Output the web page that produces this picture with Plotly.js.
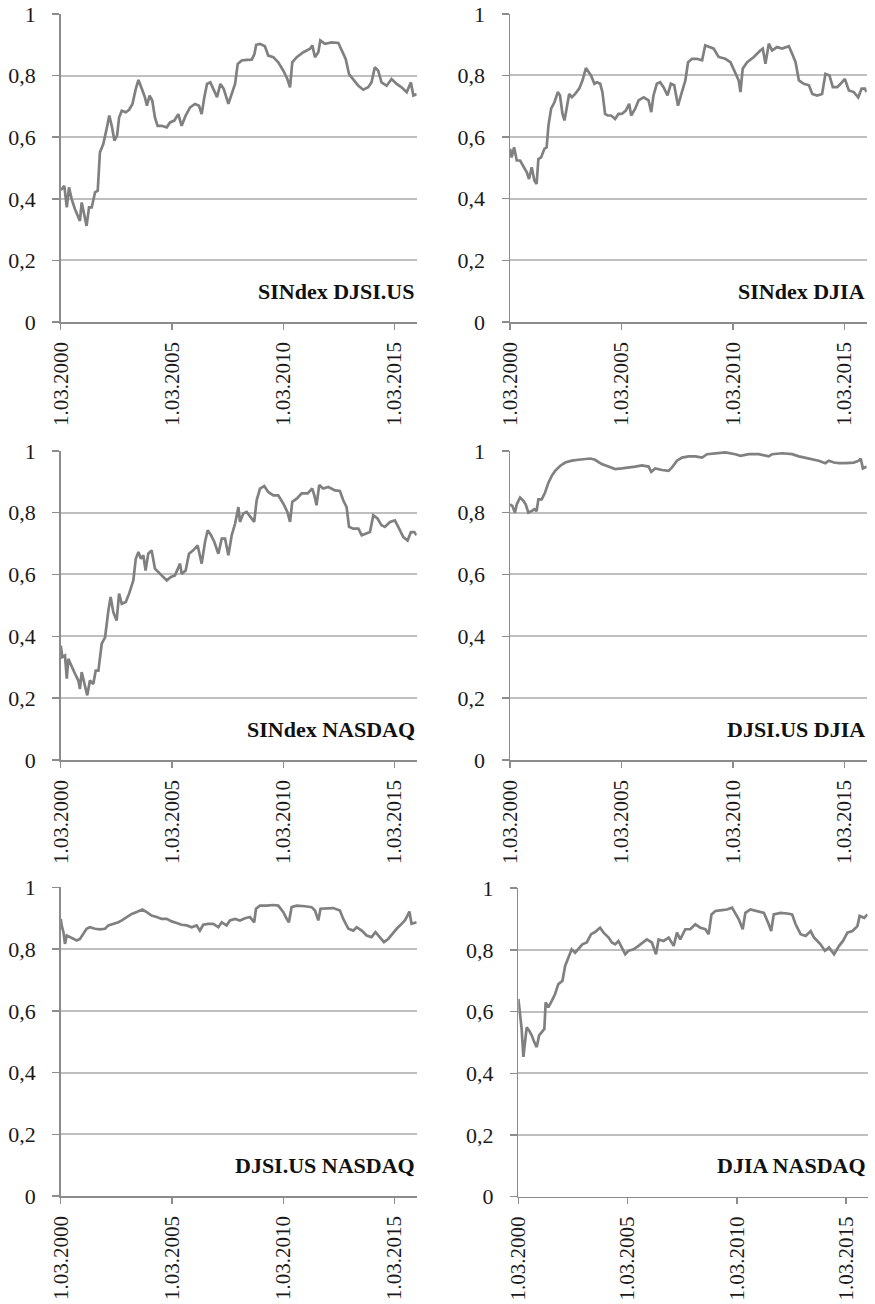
<!DOCTYPE html>
<html>
<head>
<meta charset="utf-8">
<script src="https://cdn.plot.ly/plotly-3.0.1.min.js"></script>
<style>html,body{margin:0;padding:0;background:#fff}#chart{width:875px;height:1304px}</style>
</head>
<body>
<div id="chart"></div>
<script>
// Panel titles
const panelTitles = ["SINdex DJSI.US", "SINdex DJIA", "SINdex NASDAQ", "DJSI.US DJIA", "DJSI.US NASDAQ", "DJIA NASDAQ"];
// X tick labels (1 March of each year)
const tickYears = [2000, 2005, 2010, 2015];
const tickLabels = ["1.03.2000", "1.03.2005", "1.03.2010", "1.03.2015"];
const yTicks = [0, 0.2, 0.4, 0.6, 0.8, 1];

// Series 1: SINdex - DJSI.US (time in decimal years)
const t1 = [2000.17,2000.21,2000.33,2000.44,2000.54,2000.66,2000.81,2001.03,2001.11,2001.23,2001.33,2001.44,2001.56,2001.71,2001.83,2001.93,2002.08,2002.23,2002.35,2002.46,2002.58,2002.70,2002.79,2002.91,2003.09,2003.24,2003.39,2003.54,2003.66,2003.81,2003.95,2004.04,2004.16,2004.28,2004.40,2004.52,2004.70,2004.93,2005.08,2005.27,2005.45,2005.60,2005.78,2005.98,2006.20,2006.38,2006.50,2006.62,2006.74,2006.89,2007.04,2007.19,2007.34,2007.49,2007.70,2007.88,2008.00,2008.12,2008.30,2008.52,2008.75,2008.87,2008.95,2009.12,2009.34,2009.49,2009.72,2009.94,2010.17,2010.35,2010.47,2010.57,2010.77,2011.07,2011.37,2011.47,2011.59,2011.74,2011.83,2012.04,2012.34,2012.64,2012.82,2012.97,2013.12,2013.31,2013.54,2013.76,2013.98,2014.13,2014.28,2014.43,2014.58,2014.81,2015.03,2015.26,2015.48,2015.71,2015.90,2016.01,2016.16];
const v1 = [0.431,0.431,0.442,0.372,0.437,0.399,0.366,0.328,0.388,0.339,0.312,0.372,0.372,0.421,0.426,0.551,0.578,0.627,0.670,0.637,0.589,0.605,0.664,0.686,0.681,0.689,0.708,0.757,0.786,0.757,0.730,0.702,0.735,0.719,0.664,0.637,0.637,0.632,0.648,0.654,0.675,0.637,0.670,0.697,0.708,0.702,0.675,0.730,0.773,0.778,0.751,0.730,0.773,0.757,0.708,0.751,0.773,0.838,0.849,0.851,0.852,0.870,0.900,0.903,0.895,0.865,0.860,0.843,0.816,0.789,0.762,0.843,0.860,0.876,0.887,0.898,0.860,0.876,0.914,0.903,0.908,0.906,0.876,0.854,0.805,0.789,0.767,0.754,0.762,0.778,0.827,0.816,0.778,0.767,0.789,0.773,0.762,0.746,0.778,0.735,0.740];

// Series 2: SINdex - DJIA
const t2 = [2000.17,2000.24,2000.35,2000.47,2000.62,2000.77,2000.92,2001.02,2001.14,2001.26,2001.36,2001.44,2001.56,2001.71,2001.81,2001.89,2002.01,2002.16,2002.31,2002.41,2002.52,2002.61,2002.71,2002.82,2002.94,2003.09,2003.27,2003.42,2003.57,2003.68,2003.80,2003.95,2004.07,2004.21,2004.31,2004.43,2004.55,2004.70,2004.88,2005.03,2005.18,2005.36,2005.51,2005.60,2005.78,2005.93,2006.16,2006.38,2006.50,2006.60,2006.75,2006.90,2007.05,2007.23,2007.38,2007.53,2007.70,2007.85,2008.03,2008.15,2008.33,2008.55,2008.78,2008.92,2009.10,2009.30,2009.52,2009.82,2010.05,2010.27,2010.42,2010.50,2010.60,2010.80,2011.10,2011.39,2011.50,2011.62,2011.77,2011.92,2012.14,2012.37,2012.67,2012.85,2012.97,2013.12,2013.34,2013.57,2013.72,2013.94,2014.16,2014.31,2014.49,2014.64,2014.84,2014.99,2015.18,2015.36,2015.58,2015.78,2015.93,2016.08,2016.16];
const v2 = [0.562,0.534,0.567,0.524,0.524,0.507,0.486,0.464,0.502,0.459,0.448,0.529,0.534,0.562,0.567,0.637,0.692,0.713,0.746,0.735,0.675,0.654,0.702,0.740,0.729,0.740,0.757,0.784,0.824,0.811,0.800,0.773,0.778,0.773,0.746,0.675,0.670,0.670,0.659,0.675,0.675,0.686,0.708,0.670,0.692,0.719,0.729,0.719,0.681,0.735,0.773,0.778,0.762,0.735,0.773,0.768,0.702,0.740,0.784,0.843,0.854,0.854,0.849,0.898,0.892,0.887,0.860,0.854,0.843,0.805,0.784,0.746,0.822,0.843,0.860,0.881,0.887,0.838,0.903,0.881,0.892,0.887,0.895,0.865,0.843,0.784,0.773,0.768,0.740,0.735,0.740,0.805,0.800,0.762,0.762,0.773,0.789,0.751,0.746,0.729,0.757,0.757,0.746];

// Series 3: SINdex - NASDAQ
const t3 = [2000.17,2000.24,2000.36,2000.44,2000.51,2000.66,2000.81,2000.96,2001.03,2001.11,2001.23,2001.36,2001.48,2001.63,2001.74,2001.86,2002.01,2002.16,2002.31,2002.41,2002.53,2002.68,2002.79,2002.91,2003.09,2003.24,2003.43,2003.54,2003.66,2003.77,2003.88,2003.98,2004.10,2004.25,2004.40,2004.55,2004.73,2004.93,2005.12,2005.30,2005.53,2005.60,2005.78,2005.93,2006.12,2006.32,2006.50,2006.65,2006.77,2006.92,2007.07,2007.25,2007.40,2007.55,2007.70,2007.85,2008.00,2008.15,2008.22,2008.37,2008.52,2008.67,2008.86,2008.97,2009.12,2009.31,2009.49,2009.72,2009.94,2010.17,2010.35,2010.47,2010.57,2010.77,2010.99,2011.26,2011.47,2011.56,2011.66,2011.78,2011.96,2012.19,2012.49,2012.71,2012.86,2013.01,2013.12,2013.31,2013.54,2013.69,2013.84,2014.06,2014.21,2014.40,2014.58,2014.73,2014.96,2015.18,2015.33,2015.56,2015.75,2015.90,2016.05,2016.16];
const v3 = [0.370,0.333,0.338,0.263,0.327,0.300,0.279,0.257,0.230,0.284,0.246,0.209,0.257,0.246,0.289,0.289,0.376,0.397,0.484,0.527,0.478,0.451,0.538,0.505,0.511,0.538,0.581,0.651,0.673,0.651,0.662,0.613,0.667,0.678,0.619,0.608,0.597,0.581,0.592,0.597,0.635,0.602,0.613,0.667,0.678,0.694,0.635,0.705,0.743,0.727,0.705,0.667,0.716,0.716,0.662,0.727,0.764,0.818,0.770,0.797,0.802,0.786,0.770,0.840,0.878,0.886,0.867,0.856,0.856,0.829,0.802,0.770,0.835,0.845,0.862,0.862,0.878,0.856,0.824,0.889,0.878,0.883,0.872,0.870,0.840,0.818,0.754,0.748,0.748,0.727,0.732,0.737,0.791,0.781,0.759,0.754,0.770,0.775,0.754,0.721,0.710,0.737,0.737,0.727];

// Series 4: DJSI.US - DJIA
const t4 = [2000.17,2000.27,2000.39,2000.47,2000.62,2000.77,2000.87,2000.99,2001.14,2001.26,2001.36,2001.44,2001.59,2001.74,2001.89,2002.04,2002.19,2002.41,2002.64,2002.94,2003.24,2003.53,2003.76,2003.98,2004.28,2004.58,2004.88,2005.18,2005.48,2005.78,2006.08,2006.38,2006.50,2006.68,2006.98,2007.28,2007.43,2007.65,2007.88,2008.18,2008.48,2008.78,2009.00,2009.37,2009.82,2010.27,2010.50,2010.87,2011.32,2011.77,2011.92,2012.37,2012.82,2013.12,2013.57,2014.01,2014.31,2014.46,2014.69,2014.91,2015.21,2015.58,2015.81,2015.89,2015.99,2016.16];
const v4 = [0.827,0.822,0.800,0.827,0.849,0.838,0.827,0.800,0.805,0.811,0.805,0.843,0.843,0.865,0.897,0.919,0.935,0.951,0.962,0.968,0.971,0.973,0.975,0.971,0.957,0.949,0.941,0.943,0.945,0.949,0.953,0.949,0.932,0.943,0.938,0.935,0.946,0.968,0.978,0.982,0.982,0.978,0.989,0.992,0.995,0.989,0.984,0.989,0.989,0.982,0.989,0.992,0.989,0.982,0.975,0.968,0.960,0.968,0.962,0.960,0.960,0.962,0.968,0.975,0.943,0.949];

// Series 5: DJSI.US - NASDAQ
const t5 = [2000.17,2000.21,2000.29,2000.36,2000.44,2000.59,2000.74,2000.89,2001.03,2001.18,2001.33,2001.48,2001.71,2001.93,2002.16,2002.31,2002.53,2002.76,2002.91,2003.13,2003.36,2003.58,2003.84,2004.03,2004.25,2004.48,2004.70,2004.93,2005.15,2005.38,2005.60,2005.83,2006.05,2006.27,2006.42,2006.57,2006.80,2007.02,2007.25,2007.40,2007.62,2007.77,2008.00,2008.22,2008.45,2008.67,2008.86,2008.94,2009.12,2009.42,2009.72,2009.94,2010.17,2010.32,2010.42,2010.54,2010.77,2011.14,2011.44,2011.59,2011.74,2011.84,2012.11,2012.41,2012.71,2012.86,2013.09,2013.31,2013.46,2013.69,2013.91,2014.13,2014.31,2014.51,2014.69,2014.88,2015.11,2015.26,2015.48,2015.63,2015.75,2015.83,2015.93,2016.16];
const v5 = [0.898,0.877,0.855,0.817,0.844,0.839,0.833,0.828,0.833,0.850,0.866,0.871,0.866,0.864,0.866,0.877,0.882,0.887,0.893,0.904,0.914,0.920,0.928,0.920,0.909,0.904,0.898,0.898,0.890,0.885,0.879,0.877,0.871,0.877,0.860,0.879,0.882,0.882,0.871,0.887,0.877,0.893,0.898,0.893,0.900,0.904,0.887,0.931,0.941,0.941,0.943,0.941,0.920,0.898,0.887,0.936,0.941,0.939,0.936,0.925,0.893,0.931,0.933,0.933,0.925,0.898,0.866,0.860,0.871,0.860,0.844,0.839,0.855,0.839,0.823,0.833,0.855,0.866,0.882,0.893,0.909,0.922,0.882,0.887];

// Series 6: DJIA - NASDAQ
const t6 = [2000.17,2000.24,2000.32,2000.40,2000.47,2000.55,2000.66,2000.78,2000.90,2001.01,2001.12,2001.24,2001.36,2001.42,2001.54,2001.70,2001.85,2002.00,2002.19,2002.31,2002.46,2002.61,2002.77,2002.92,2003.10,2003.30,2003.50,2003.68,2003.91,2004.07,2004.30,2004.45,2004.60,2004.75,2004.91,2005.06,2005.21,2005.44,2005.67,2005.90,2006.05,2006.28,2006.47,2006.59,2006.82,2007.05,2007.28,2007.43,2007.58,2007.81,2008.04,2008.27,2008.50,2008.73,2008.88,2009.01,2009.19,2009.49,2009.72,2009.95,2010.11,2010.26,2010.44,2010.56,2010.79,2011.10,2011.41,2011.63,2011.74,2011.86,2012.17,2012.48,2012.70,2012.86,2013.09,2013.32,2013.55,2013.70,2014.00,2014.20,2014.39,2014.62,2014.85,2015.03,2015.23,2015.46,2015.69,2015.79,2016.00,2016.15];
const v6 = [0.641,0.598,0.544,0.453,0.501,0.549,0.539,0.523,0.501,0.485,0.523,0.533,0.544,0.630,0.614,0.635,0.657,0.689,0.700,0.748,0.775,0.802,0.791,0.802,0.818,0.824,0.851,0.858,0.872,0.856,0.840,0.824,0.818,0.829,0.808,0.786,0.797,0.802,0.813,0.824,0.834,0.824,0.786,0.834,0.829,0.840,0.813,0.856,0.834,0.867,0.867,0.883,0.872,0.867,0.851,0.915,0.926,0.929,0.931,0.937,0.915,0.899,0.867,0.920,0.931,0.926,0.920,0.883,0.861,0.915,0.920,0.918,0.915,0.883,0.851,0.845,0.861,0.840,0.818,0.797,0.808,0.786,0.813,0.829,0.856,0.861,0.877,0.910,0.904,0.915];

const seriesT = [t1, t2, t3, t4, t5, t6];
const seriesV = [v1, v2, v3, v4, v5, v6];

const W = 875, H = 1304;
// Plot frames in pixels [left, right, top, bottom]
const frames = [
  [60.7, 416.7, 14, 322],
  [510, 866.7, 13.8, 322],
  [60.7, 416.7, 450.8, 760],
  [510, 866.7, 450.8, 760],
  [60.7, 416.7, 887.4, 1196.2],
  [518.3, 867.7, 888.2, 1196.7]
];
const xStart = 2000.167, xEnd = 2016.16;
const font = "'Liberation Serif', 'Times New Roman', serif";

const traces = [];
const layout = {
  width: W, height: H,
  margin: {l: 0, r: 0, t: 0, b: 0},
  paper_bgcolor: '#fff', plot_bgcolor: '#fff',
  separators: ',.',
  showlegend: false,
  font: {family: font, size: 22, color: '#1a1a1a'},
  annotations: []
};

frames.forEach((f, i) => {
  const n = i + 1;
  const xa = 'xaxis' + (n === 1 ? '' : n), ya = 'yaxis' + (n === 1 ? '' : n);
  const xr = 'x' + (n === 1 ? '' : n), yr = 'y' + (n === 1 ? '' : n);
  layout[xa] = {
    domain: [f[0] / W, f[1] / W],
    anchor: yr,
    range: [xStart, xEnd],
    tickvals: tickYears.map(y => y + 0.167),
    ticktext: tickLabels,
    tickangle: -90,
    ticks: 'outside', ticklen: 6, tickwidth: 1.5, tickcolor: '#8c8c8c',
    showline: true, linecolor: '#8c8c8c', linewidth: 1.5,
    showgrid: false, zeroline: false,
    tickfont: {family: font, size: 21, color: '#1a1a1a'},
    ticklabelstandoff: 4,
    fixedrange: true
  };
  layout[ya] = {
    domain: [1 - f[3] / H, 1 - f[2] / H],
    anchor: xr,
    range: [0, 1],
    tickvals: yTicks,
    ticks: 'outside', ticklen: 7, tickwidth: 1.5, tickcolor: '#8c8c8c',
    showline: true, linecolor: '#8c8c8c', linewidth: 1.5,
    showgrid: true, gridcolor: '#bfbfbf', gridwidth: 2,
    zeroline: false,
    tickfont: {family: font, size: 22, color: '#1a1a1a'},
    ticklabelstandoff: 12,
    fixedrange: true
  };
  traces.push({
    type: 'scatter', mode: 'lines',
    x: seriesT[i], y: seriesV[i],
    xaxis: xr, yaxis: yr,
    line: {color: '#808080', width: 2.7},
    hoverinfo: 'skip'
  });
  layout.annotations.push({
    xref: xr + ' domain', yref: yr + ' domain',
    x: 1, y: 0.1, xanchor: 'right', yanchor: 'middle',
    text: '<b>' + panelTitles[i] + '</b>',
    showarrow: false,
    font: {family: font, size: 22, color: '#111'}
  });
});

Plotly.newPlot('chart', traces, layout, {staticPlot: true, displayModeBar: false});
</script>
</body>
</html>
